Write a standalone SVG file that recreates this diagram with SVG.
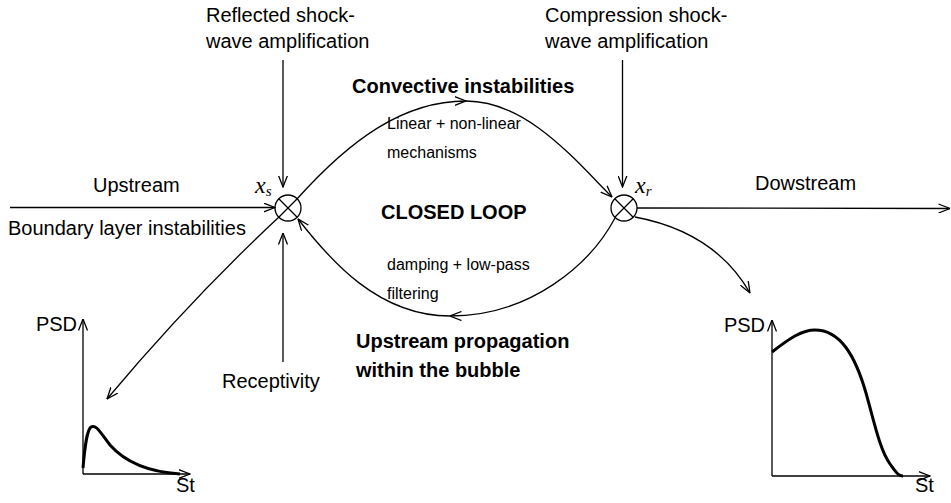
<svg xmlns="http://www.w3.org/2000/svg" width="951" height="503" viewBox="0 0 951 503">
<style>
text{font-family:"Liberation Sans",Arial,sans-serif;font-size:20px;fill:#000}
.b{font-weight:bold}
.s{font-size:16px}
.m{font-family:"Liberation Serif","Times New Roman",serif;font-style:italic;font-size:24px}
.sub{font-size:15px}
.ln{fill:none;stroke:#000;stroke-width:1.3}
.ar{marker-end:url(#arr)}
.th{fill:none;stroke:#000;stroke-width:3}
</style>
<defs>
<marker id="arr" markerUnits="userSpaceOnUse" viewBox="0 0 12 10" refX="11.5" refY="5" markerWidth="12" markerHeight="10" orient="auto">
<path d="M0,0.5 L11.5,5 L0,9.5" fill="none" stroke="#000" stroke-width="1.3"/>
</marker>
</defs>
<rect width="951" height="503" fill="#fff"/>

<g id="connectors">
<path class="ln ar" d="M10,207.5 L275,207.5"/>
<path class="ln ar" d="M637,208 L950,208.5"/>
<path class="ln ar" d="M283,60 L283,187"/>
<path class="ln ar" d="M622.5,60 L622.5,187"/>
<path class="ln ar" d="M283,362 L283,233"/>
<path class="ln ar" d="M297,199 C350,140 403,101 466,101"/>
<path class="ln ar" d="M466,101 C527,101 575,160 612,197"/>
<path class="ln ar" d="M615,218 C590,265 530,316 450,316"/>
<path class="ln ar" d="M450,316 C378,316 330,260 298,219"/>
<path class="ln ar" d="M279,217 Q190,300 107,399"/>
<path class="ln ar" d="M635,217 Q715,232 750,293"/>
</g>

<g id="node-xs">
<circle cx="288" cy="208" r="13" class="ln"/>
<path class="ln" d="M278.8,198.8 L297.2,217.2 M297.2,198.8 L278.8,217.2"/>
<text class="m" x="255" y="193">x<tspan class="sub" dy="3">s</tspan></text>
</g>

<g id="node-xr">
<circle cx="624" cy="208" r="13" class="ln"/>
<path class="ln" d="M614.8,198.8 L633.2,217.2 M633.2,198.8 L614.8,217.2"/>
<text class="m" x="635" y="193">x<tspan class="sub" dy="3">r</tspan></text>
</g>

<g id="labels">
<text x="93" y="192">Upstream</text>
<text x="8" y="235">Boundary layer instabilities</text>
<text x="206" y="22">Reflected shock-</text>
<text x="206" y="48">wave amplification</text>
<text x="545" y="22">Compression shock-</text>
<text x="545" y="48">wave amplification</text>
<text class="b" x="352" y="93">Convective instabilities</text>
<text class="s" x="387" y="129">Linear + non-linear</text>
<text class="s" x="387" y="158">mechanisms</text>
<text class="b" x="381" y="219">CLOSED LOOP</text>
<text x="755" y="190">Dowstream</text>
<text class="s" x="387" y="270">damping + low-pass</text>
<text class="s" x="387" y="299">filtering</text>
<text class="b" x="356" y="348">Upstream propagation</text>
<text class="b" x="356" y="377">within the bubble</text>
<text x="222" y="388">Receptivity</text>
</g>

<g id="chart-left">
<path class="ln ar" d="M83,474 L83,319"/>
<path class="ln ar" d="M83,474 L190,474"/>
<text x="77" y="331" text-anchor="end">PSD</text>
<text x="176" y="492">St</text>
<path class="th" d="M83,468 C85,445 87,430 91,427 C96,424 100,432 110,445 C125,462 150,472 180,474"/>
</g>

<g id="chart-right">
<path class="ln ar" d="M772,476 L772,320"/>
<path class="ln ar" d="M772,476 L930,476"/>
<text x="765" y="332" text-anchor="end">PSD</text>
<text x="915" y="492">St</text>
<path class="th" d="M772,352 C790,338 802,330 815,330 C840,330 855,355 866,393 C875,425 880,450 890,464 C895,471 898,476 903,476"/>
</g>
</svg>
